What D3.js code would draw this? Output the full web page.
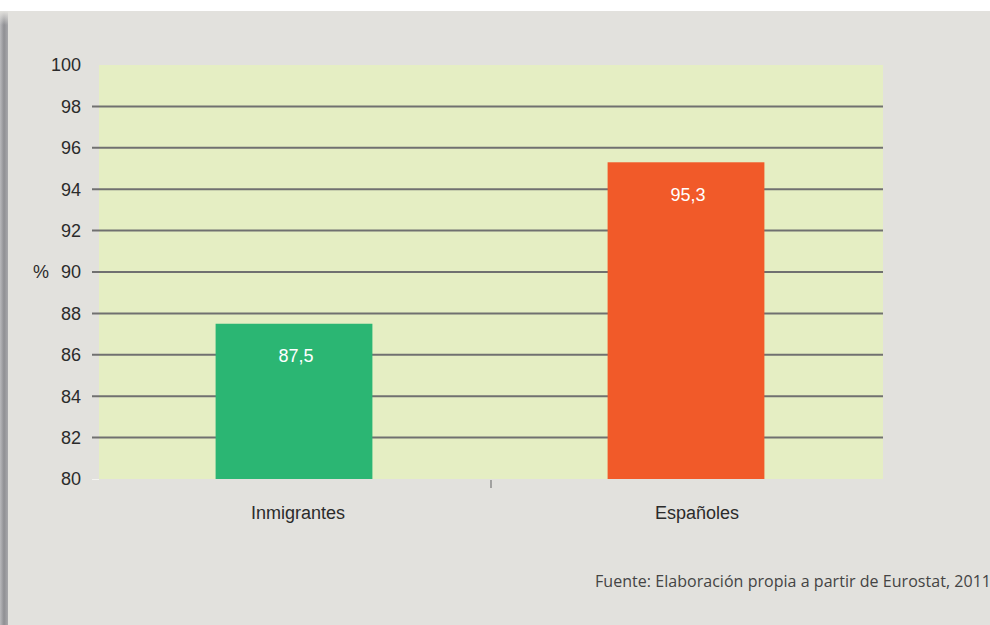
<!DOCTYPE html>
<html><head><meta charset="utf-8">
<script src="https://cdn.jsdelivr.net/npm/d3@7"></script>
<style>html,body{margin:0;padding:0;background:#fff;}svg{display:block;}</style>
</head><body>
<svg id="c" width="990" height="625"></svg>
<script>
const categories = ["Inmigrantes", "Españoles"];
const values = [87.5, 95.3];
const valueLabels = ["87,5", "95,3"];
const barColors = ["#2bb673", "#f15a29"];
const yTicks = [80, 82, 84, 86, 88, 90, 92, 94, 96, 98, 100];
const sourceText = "Fuente: Elaboración propia a partir de Eurostat, 2011";

(function(){
const svg = d3.select("#c");
const defs = svg.append("defs");
const g1 = defs.append("linearGradient").attr("id","edge").attr("x1","0").attr("x2","1");
g1.append("stop").attr("offset","0").attr("stop-color","#b9b9bc");
g1.append("stop").attr("offset","0.5").attr("stop-color","#8f8f93");
g1.append("stop").attr("offset","1").attr("stop-color","#a8a8ab");
const g2 = defs.append("linearGradient").attr("id","edgeFade").attr("x1","0").attr("x2","0").attr("y1","0").attr("y2","1");
g2.append("stop").attr("offset","0").attr("stop-color","#e2e1dd").attr("stop-opacity",1);
g2.append("stop").attr("offset","1").attr("stop-color","#e2e1dd").attr("stop-opacity",0);

svg.append("rect").attr("x",0).attr("y",0).attr("width",990).attr("height",625).attr("fill","#ffffff");
svg.append("rect").attr("x",0).attr("y",11).attr("width",990).attr("height",614).attr("fill","#e2e1dd");
svg.append("rect").attr("x",0).attr("y",11).attr("width",8).attr("height",614).attr("fill","url(#edge)");
svg.append("rect").attr("x",0).attr("y",11).attr("width",8).attr("height",14).attr("fill","url(#edgeFade)");

const pL = 99, pR = 883, pT = 65, pB = 479;
const x = d3.scaleBand().domain(categories).range([pL, pR]).padding(0);
const y = d3.scaleLinear().domain([80, 100]).range([pB, pT]);
const FONT = "Liberation Sans, Arial, sans-serif";

svg.append("rect").attr("x",pL).attr("y",pT).attr("width",pR-pL).attr("height",pB-pT).attr("fill","#e5eec3");

// gridlines
svg.append("g").selectAll("line").data(yTicks.filter(t => t > 80 && t < 100)).join("line")
  .attr("x1", pL-7).attr("x2", pR)
  .attr("y1", d => y(d)).attr("y2", d => y(d))
  .attr("stroke","#707070").attr("stroke-width",2);
svg.append("line").attr("x1",pL-7).attr("x2",pL).attr("y1",pB+0.5).attr("y2",pB+0.5)
  .attr("stroke","#f4f4f0").attr("stroke-width",1);

// y tick labels
svg.append("g").selectAll("text").data(yTicks).join("text")
  .attr("x", 81).attr("y", d => y(d)).attr("dy","0.35em")
  .attr("text-anchor","end").attr("font-family",FONT)
  .attr("font-size",18).attr("fill","#2b2b2b").text(d => d);
svg.append("text").attr("x",33).attr("y",y(90)).attr("dy","0.35em")
  .attr("font-family",FONT).attr("font-size",18).attr("fill","#2b2b2b").text("%");

// bars
const bw = x.bandwidth() * 0.4;
svg.append("g").selectAll("rect").data(categories).join("rect")
  .attr("x", (d) => x(d) + x.bandwidth()/2 - bw/2 - 1)
  .attr("y", (d,i) => y(values[i]))
  .attr("width", bw)
  .attr("height", (d,i) => y(80) - y(values[i]))
  .attr("fill", (d,i) => barColors[i]);

svg.append("g").selectAll("text").data(categories).join("text")
  .attr("x", d => x(d) + x.bandwidth()/2 + 1)
  .attr("y", (d,i) => y(values[i]) + 32)
  .attr("dy","0.35em")
  .attr("text-anchor","middle").attr("font-family",FONT)
  .attr("font-size",18).attr("fill","#ffffff").text((d,i) => valueLabels[i]);

// x axis tick between categories
svg.append("line").attr("x1", x(categories[1])).attr("x2", x(categories[1]))
  .attr("y1", pB+1).attr("y2", pB+9).attr("stroke","#777").attr("stroke-width",1.2);

svg.append("g").selectAll("text").data(categories).join("text")
  .attr("x", d => x(d) + x.bandwidth()/2 + (d === categories[1] ? 10 : 3))
  .attr("y", 513).attr("dy","0.35em")
  .attr("text-anchor","middle").attr("font-family",FONT)
  .attr("font-size",18).attr("fill","#2b2b2b").text(d => d);

svg.append("text").attr("x", 595).attr("y", 587)
  .attr("font-family","'Open Sans', Lato, sans-serif").attr("font-size",16).attr("fill","#444")
  .attr("textLength", 396).attr("lengthAdjust","spacing")
  .text(sourceText);
})();
</script>
</body></html>
